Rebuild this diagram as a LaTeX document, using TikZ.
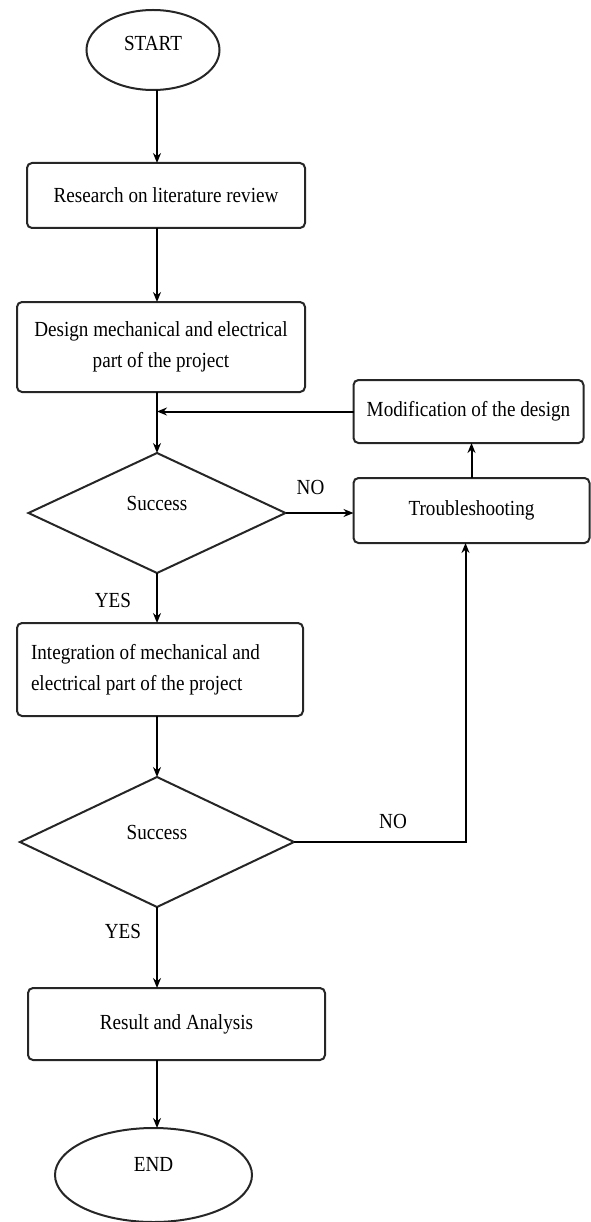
\documentclass[tikz,border=0pt]{standalone}
\usepackage{fontspec}
\setmainfont{Liberation Serif}[FakeStretch=0.89]
\usepackage{tikz}
\usetikzlibrary{positioning, shapes.geometric, arrows.meta}

\begin{document}
\begin{tikzpicture}[x = 1pt, y = -1pt, line width = 2pt, >={Stealth[length=10pt, width=8pt]},
        font = \fontsize{21.5}{31}\selectfont]
            \tikzstyle{terminal} = [ellipse, draw=black!85, inner sep=0pt, outer sep=0pt];
            \tikzstyle{process} = [rectangle, rounded corners=5pt, draw=black!85, inner sep=0pt, outer sep=0pt, align=center];
            \tikzstyle{decision} = [diamond, draw=black!85, inner sep=0pt, outer sep=0pt, aspect=2, text depth=20pt];
            \tikzstyle{answer} = [inner sep=0pt];
            \useasboundingbox (0,0) rectangle (590,1222);

            \node [terminal, minimum width=133pt, minimum height=80pt, text depth=14pt] (start) at (153,50) {START};
            \node [process, minimum width=278pt, minimum height=65pt, below = 73pt of start, xshift=13pt] (research) {Research on literature review};
            \node [process, minimum width=288pt, minimum height=90pt, below = 74pt of research, xshift=-5pt] (design) {Design mechanical and electrical\\part of the project};
            \node [decision, minimum width=257pt, minimum height=120pt, below = 61pt of design, xshift=-4pt] (dec1) {Success};
            \node [process, minimum width=236pt, minimum height=65pt, right = 68pt of dec1, yshift=2.5pt] (trouble) {Troubleshooting};
            \node [process, minimum width=230pt, minimum height=63pt, above = 35pt of trouble, xshift=-3pt] (modif) {Modification of the design};
            \node [process, minimum height=93pt, text width=258pt, inner xsep=14pt, align=flush left, below = 50pt of dec1, xshift=3pt] (integ) {Integration of mechanical and\\electrical part of the project};
            \node [decision, minimum width=274pt, minimum height=130pt, below = 61pt of integ, xshift=-3pt] (dec2) {Success};
            \node [process, minimum width=297pt, minimum height=72pt, below = 81pt of dec2, xshift=19.5pt] (result) {Result and Analysis};
            \node [terminal, minimum width=197pt, minimum height=94pt, text depth=21pt, below = 68pt of result, xshift=-23pt] (finish) {END};

            \node [answer] (no1) at ([shift={(25,-26)}]dec1.east) {NO};
            \node [answer] (yes1) at ([shift={(-44,27)}]dec1.south) {YES};
            \node [answer] (no2) at ([shift={(99,-21)}]dec2.east) {NO};
            \node [answer] (yes2) at ([shift={(-34,24)}]dec2.south) {YES};

            \draw [->] (start.south -| dec1) to (research.north -| dec1);
            \draw [->] (research.south -| dec1) to (design.north -| dec1);
            \draw [->] (design.south -| dec1) to (dec1.north);
            \draw [->] (modif.west) to (modif.west -| dec1);
            \draw [->] (dec1.east) to (dec1.east -| trouble.west);
            \draw [->] (trouble.north) to (trouble.north |- modif.south);
            \draw [->] (dec1.south) to (integ.north -| dec1);
            \draw [->] (integ.south -| dec2) to (dec2.north);
            \draw [->] (dec2.east) -| ([xshift=-6pt]trouble.south);
            \draw [->] (dec2.south) to (result.north -| dec2);
            \draw [->] (result.south -| dec2) to (finish.north -| dec2);
        \end{tikzpicture}
\end{document}
